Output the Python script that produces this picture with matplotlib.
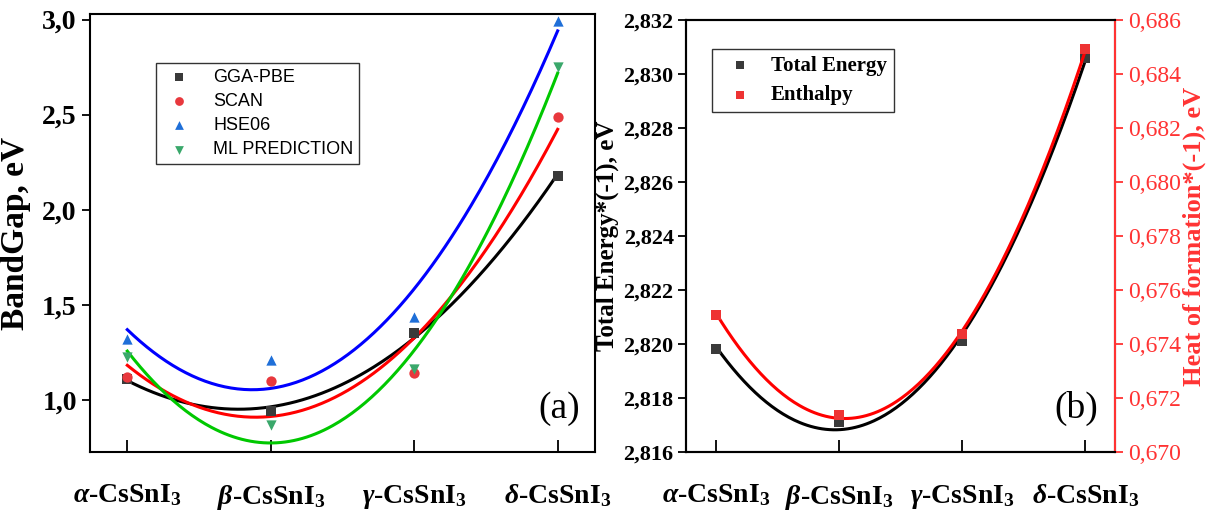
import numpy as np
import matplotlib
matplotlib.use('Agg')
import matplotlib.pyplot as plt
from matplotlib.ticker import FuncFormatter

plt.rcParams['font.family'] = 'Liberation Serif'
plt.rcParams['font.weight'] = 'bold'
plt.rcParams['mathtext.fontset'] = 'custom'
plt.rcParams['mathtext.rm'] = 'Liberation Serif:bold'
plt.rcParams['mathtext.it'] = 'Liberation Serif:italic:bold'
plt.rcParams['mathtext.bf'] = 'Liberation Serif:bold'

phases = [r'$\alpha$-CsSnI$_3$', r'$\beta$-CsSnI$_3$', r'$\gamma$-CsSnI$_3$', r'$\delta$-CsSnI$_3$']

# band gaps (eV)
gga_pbe = [1.11, 0.94, 1.35, 2.18]
scan = [1.12, 1.10, 1.14, 2.485]
hse06 = [1.32, 1.21, 1.435, 2.99]
ml_pred = [1.225, 0.87, 1.165, 2.75]

# energies (eV, times -1)
total_energy = [2.8198, 2.8171, 2.8201, 2.8306]
enthalpy = [0.67508, 0.67138, 0.67437, 0.68492]

RED = '#ff3333'


def comma(dec):
    return FuncFormatter(lambda v, p: f'{v:.{dec}f}'.replace('.', ','))


def fit_curve(ax, x, y, color):
    coef = np.polyfit(x, y, 2)
    xs = np.linspace(x[0], x[-1], 200)
    ax.plot(xs, np.polyval(coef, xs), color=color, lw=2.2, zorder=2)


x = np.arange(len(phases))
fig = plt.figure(figsize=(12.08, 5.12), dpi=100)

# ---- panel (a) ----
ax1 = fig.add_axes([0.0745, 0.117, 0.418, 0.856])
series = [
    (gga_pbe, 'GGA-PBE', 's', '#3a3a3a', 'black'),
    (scan, 'SCAN', 'o', '#e8383d', 'red'),
    (hse06, 'HSE06', '^', '#1f6fd8', 'blue'),
    (ml_pred, 'ML PREDICTION', 'v', '#3aa86b', '#00c800'),
]
for vals, name, mk, mc, lc in series:
    ax1.scatter(x, vals, marker=mk, s=55, color=mc, label=name, zorder=3, linewidths=0)
    fit_curve(ax1, x, vals, lc)

ax1.set_xlim(-0.26, 3.26)
ax1.set_ylim(0.726, 3.03)
ax1.set_yticks([1.0, 1.5, 2.0, 2.5, 3.0])
ax1.yaxis.set_major_formatter(comma(1))
ax1.set_xticks(x)
ax1.set_xticklabels(phases)
ax1.tick_params(axis='x', direction='in', length=9, width=1.3, pad=22, labelsize=20)
ax1.tick_params(axis='y', direction='out', length=6, width=1.3, labelsize=20)
ax1.set_ylabel('BandGap, eV', fontsize=24, fontweight='bold', labelpad=8)
for sp in ax1.spines.values():
    sp.set_linewidth(1.5)
leg = ax1.legend(loc='upper left', bbox_to_anchor=(0.112, 0.908), fancybox=False,
                 edgecolor='#333333',
                 prop={'family': 'Liberation Sans', 'weight': 'normal', 'size': 13},
                 labelspacing=0.4, handletextpad=0.9, borderpad=0.3, framealpha=1,
                 markerscale=0.85)
leg.get_frame().set_linewidth(1.0)
ax1.text(0.97, 0.10, '(a)', transform=ax1.transAxes, fontsize=27, fontweight='normal',
         ha='right', va='center')

# ---- panel (b) ----
ax2 = fig.add_axes([0.568, 0.117, 0.355, 0.844])
ax3 = ax2.twinx()
ax2.scatter(x, total_energy, marker='s', s=45, color='#3a3a3a', label='Total Energy', zorder=3, linewidths=0)
fit_curve(ax2, x, total_energy, 'black')
ax3.scatter(x, enthalpy, marker='s', s=45, color='#ee3333', label='Enthalpy', zorder=3, linewidths=0)
fit_curve(ax3, x, enthalpy, 'red')

ax2.set_xlim(-0.245, 3.24)
ax2.set_ylim(2.816, 2.832)
ax3.set_ylim(0.670, 0.686)
ax2.set_yticks(np.arange(2.816, 2.8321, 0.002))
ax3.set_yticks(np.arange(0.670, 0.6861, 0.002))
ax2.yaxis.set_major_formatter(comma(3))
ax3.yaxis.set_major_formatter(comma(3))
ax2.set_xticks(x)
ax2.set_xticklabels(phases)
ax2.tick_params(axis='x', direction='in', length=9, width=1.3, pad=22, labelsize=20)
ax2.tick_params(axis='y', direction='out', length=6, width=1.3, labelsize=16, pad=3)
ax3.tick_params(axis='y', direction='out', length=6, width=1.3, labelsize=17, colors=RED)
for lab in ax3.get_yticklabels():
    lab.set_fontweight('normal')
ax2.set_ylabel('Total Energy*(-1), eV', fontsize=18, fontweight='bold', labelpad=3)
ax3.set_ylabel('Heat of formation*(-1), eV', fontsize=19, fontweight='bold', color=RED, labelpad=1)
for sp in ax2.spines.values():
    sp.set_linewidth(1.5)
for sp in ax3.spines.values():
    sp.set_linewidth(1.5)
ax3.spines['right'].set_color(RED)

h1, l1 = ax2.get_legend_handles_labels()
h2, l2 = ax3.get_legend_handles_labels()
leg2 = ax3.legend(h1 + h2, l1 + l2, loc='upper left', bbox_to_anchor=(0.035, 0.958),
                  fancybox=False, edgecolor='#333333',
                  prop={'family': 'Liberation Serif', 'weight': 'bold', 'size': 15},
                  labelspacing=0.45, handletextpad=0.5, borderpad=0.35, framealpha=1,
                  markerscale=0.8)
leg2.get_frame().set_linewidth(1.0)
ax3.text(0.96, 0.10, '(b)', transform=ax2.transAxes, fontsize=27, fontweight='normal',
         ha='right', va='center')

fig.savefig('out.png', dpi=100)
